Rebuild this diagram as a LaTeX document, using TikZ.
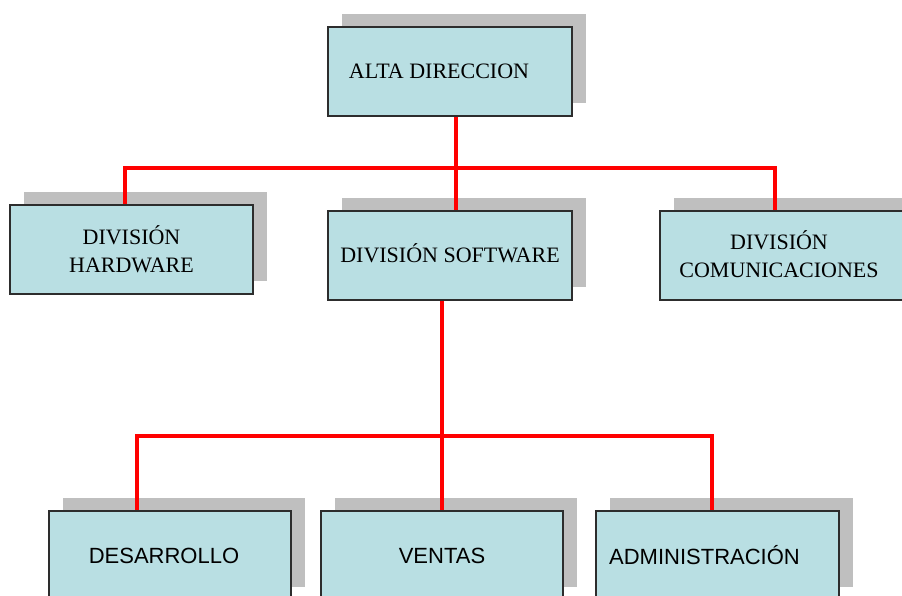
\documentclass[tikz,border=0pt]{standalone}
\usepackage{fontspec}
\setmainfont{Liberation Serif}
\newfontfamily\arialfont{Liberation Sans}
\usepackage{tikz}
\usetikzlibrary{shadows}

\definecolor{boxfill}{RGB}{185,223,227}
\definecolor{boxline}{RGB}{45,45,45}

\tikzset{
  unit/.style={draw=boxline,line width=1.3pt,fill=boxfill,
    minimum width=244pt,minimum height=89pt,align=center,
    drop shadow={shadow xshift=14pt,shadow yshift=13pt,fill=black!25,opacity=1},
    font=\fontsize{22}{28}\selectfont},
  subunit/.style={unit,font=\arialfont\fontsize{22}{28}\selectfont},
  link/.style={red,line width=4pt}
}

\begin{document}
\begin{tikzpicture}[x=1pt,y=-1pt]
\useasboundingbox (0,0) rectangle (902,595);

% Top
\node[unit] (alta) at (450,71.5) {\raisebox{-2pt}{ALTA DIRECCION}\hspace*{22pt}};

% Divisions
\node[unit,minimum width=243pt] (hardware) at (131.5,249.5) {\raisebox{-3pt}{DIVISIÓN}\\\raisebox{-3pt}{HARDWARE}};
\node[unit] (software) at (450,255.5) {\raisebox{4pt}{DIVISIÓN SOFTWARE}};
\node[unit] (comunic) at (782,255.5) {\hspace*{-6pt}\raisebox{2pt}{DIVISIÓN}\\\hspace*{-6pt}\raisebox{2pt}{COMUNICACIONES}};

% Software departments
\node[subunit,minimum width=242pt] (desarrollo) at (170,555.5) {\hspace*{-12pt}\raisebox{-2pt}{DESARROLLO}};
\node[subunit,minimum width=242pt] (ventas) at (442,555.5) {\raisebox{-2pt}{VENTAS}};
\node[subunit,minimum width=243pt] (admin) at (717.5,555.5) {\raisebox{-2pt}{ADMINISTRACIÓN}\hspace*{26pt}};

% Lines
\draw[link] ([xshift=6pt]alta.south) -- ++(0,51) coordinate (j1);
\draw[link] (j1) -| ([xshift=-7pt]hardware.north);
\draw[link] (j1) -| ([xshift=-7pt]comunic.north);
\draw[link] (j1) -- ([xshift=6pt]software.north);

\draw[link] (ventas.north |- software.south) -- ++(0,135) coordinate (j2);
\draw[link] (j2) -| ([xshift=-33pt]desarrollo.north);
\draw[link] (j2) -- (ventas.north);
\draw[link] (j2) -| ([xshift=-6pt]admin.north);

\end{tikzpicture}
\end{document}
